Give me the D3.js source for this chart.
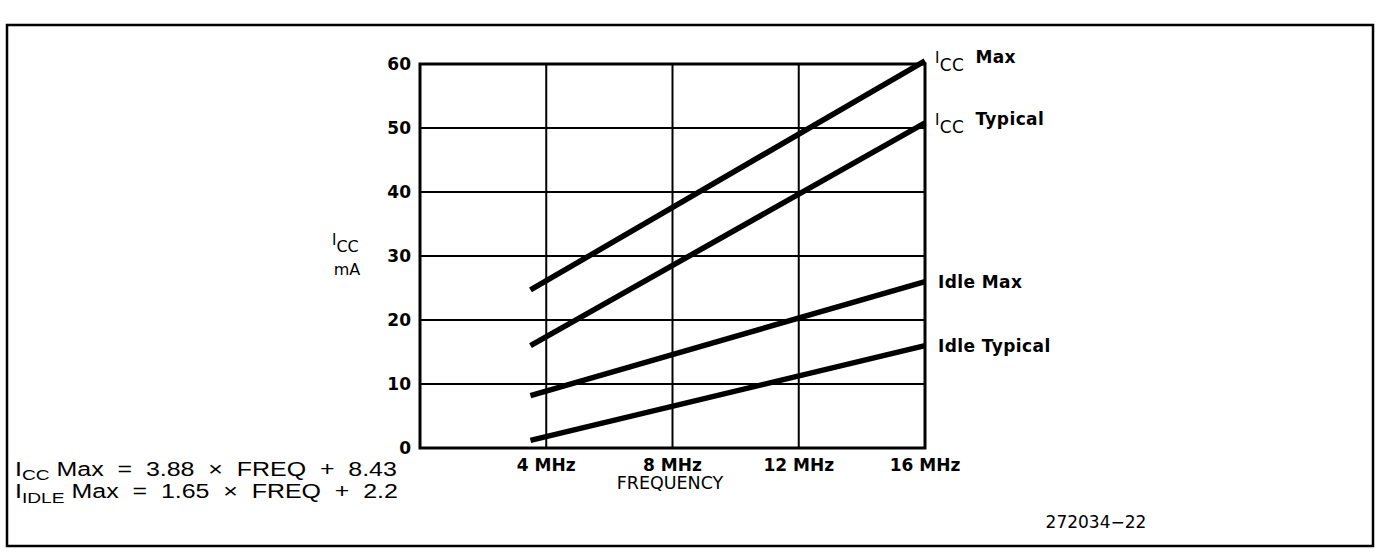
<!DOCTYPE html>
<html>
<head>
<meta charset="utf-8">
<script src="https://cdn.jsdelivr.net/npm/d3@7"></script>
<style>
  body { margin: 0; background: #fff; }
  text { font-family: "DejaVu Sans", "Liberation Sans", Arial, sans-serif; fill: #000; }
  .tick-lbl { font-size: 17px; font-weight: bold; }
  .series-lbl { font-size: 17px; font-weight: bold; letter-spacing: 0.4px; }
  .note { font-family: "Liberation Sans", Arial, sans-serif; font-size: 19.5px; white-space: pre; }
</style>
</head>
<body>
<div id="chart"></div>
<script>
// data
var freqTicks = [4, 8, 12, 16]
var freqLabels = ["4 MHz", "8 MHz", "12 MHz", "16 MHz"]
var iccTicks = [0, 10, 20, 30, 40, 50, 60]

var seriesNames = ["Max", "Typical", "Idle Max", "Idle Typical"]
var seriesFreq = [3.5, 16]
var iccMax = [24.7, 60.5]
var iccTyp = [16, 50.8]
var idleMax = [8.2, 26]
var idleTyp = [1.2, 16]

var W = 1381, H = 555

var svg = d3.select("#chart")
  .append("svg")
  .attr("width", W)
  .attr("height", H)

// outer frame
svg.append("rect")
  .attr("x", 7).attr("y", 25)
  .attr("width", 1366).attr("height", 521)
  .attr("fill", "none")
  .attr("stroke", "#000")
  .attr("stroke-width", 2.5)

var x = d3.scaleLinear().domain([0, 16]).range([420, 925])
var y = d3.scaleLinear().domain([0, 60]).range([448, 64])

var plot = svg.append("g")

// grid lines
plot.selectAll(".hgrid")
  .data(iccTicks)
  .enter()
  .append("line")
  .attr("x1", x(0)).attr("x2", x(16))
  .attr("y1", d => y(d)).attr("y2", d => y(d))
  .attr("stroke", "#000")
  .attr("stroke-width", 2)

plot.selectAll(".vgrid")
  .data(freqTicks)
  .enter()
  .append("line")
  .attr("x1", d => x(d)).attr("x2", d => x(d))
  .attr("y1", y(0)).attr("y2", y(60))
  .attr("stroke", "#000")
  .attr("stroke-width", 2)

// frame of the plot
plot.append("rect")
  .attr("x", x(0)).attr("y", y(60))
  .attr("width", x(16) - x(0)).attr("height", y(0) - y(60))
  .attr("fill", "none")
  .attr("stroke", "#000")
  .attr("stroke-width", 3)

// y tick labels
plot.selectAll(".ylbl")
  .data(iccTicks)
  .enter()
  .append("text")
  .attr("class", "tick-lbl")
  .attr("x", x(0) - 9)
  .attr("y", d => y(d) + 6)
  .attr("text-anchor", "end")
  .text(d => d)

// x tick labels
plot.selectAll(".xlbl")
  .data(freqTicks)
  .enter()
  .append("text")
  .attr("class", "tick-lbl")
  .attr("x", d => x(d))
  .attr("y", y(0) + 23)
  .attr("text-anchor", "middle")
  .text((d, i) => freqLabels[i])

// the four lines
var allSeries = [iccMax, iccTyp, idleMax, idleTyp]
var line = d3.line()
  .x((d, i) => x(seriesFreq[i]))
  .y(d => y(d))

plot.selectAll(".series")
  .data(allSeries)
  .enter()
  .append("path")
  .attr("d", d => line(d))
  .attr("fill", "none")
  .attr("stroke", "#000")
  .attr("stroke-width", 5.5)

// series labels at the right end
allSeries.forEach(function(s, i) {
  var ty = y(s[1])
  var t = plot.append("text")
    .attr("class", "series-lbl")
    .attr("x", x(16) + 10)
    .attr("y", ty + 2)
  if (i < 2) {
    t.append("tspan").attr("font-weight", "normal").attr("font-size", 15).text("I")
    t.append("tspan").attr("dy", 8).attr("font-weight", "normal").attr("font-size", 17).text("CC")
    t.append("tspan").attr("dy", -8).attr("dx", 11).text(seriesNames[i])
  } else {
    t.attr("x", x(16) + 13).attr("y", ty + 6)
    t.text(seriesNames[i])
  }
})

// y axis title
var yt = svg.append("text")
  .attr("x", 332).attr("y", 245)
  .attr("font-size", 15)
yt.append("tspan").text("I")
yt.append("tspan").attr("dy", 7).attr("font-size", 16).text("CC")
svg.append("text")
  .attr("x", 347).attr("y", 275)
  .attr("text-anchor", "middle")
  .attr("font-size", 16)
  .text("mA")

// x axis title
svg.append("text")
  .attr("x", 670).attr("y", 489)
  .attr("text-anchor", "middle")
  .attr("font-size", 17.5)
  .text("FREQUENCY")

// formulas (the scanned type is wide, so stretch it sideways)
var f1 = svg.append("g").attr("transform", "translate(15,476) scale(1.28,1)")
  .append("text").attr("class", "note")
f1.append("tspan").text("I")
f1.append("tspan").attr("dy", 4).attr("font-size", 15).text("CC")
f1.append("tspan").attr("dy", -4).text(" Max  =  3.88  \u00d7  FREQ  +  8.43")

var f2 = svg.append("g").attr("transform", "translate(15,498) scale(1.28,1)")
  .append("text").attr("class", "note")
f2.append("tspan").text("I")
f2.append("tspan").attr("dy", 5).attr("font-size", 15).text("IDLE")
f2.append("tspan").attr("dy", -5).text(" Max  =  1.65  \u00d7  FREQ  +  2.2")

// figure number
svg.append("text")
  .attr("x", 1096).attr("y", 528)
  .attr("text-anchor", "middle")
  .attr("font-size", 17)
  .text("272034\u221222")
</script>
</body>
</html>
